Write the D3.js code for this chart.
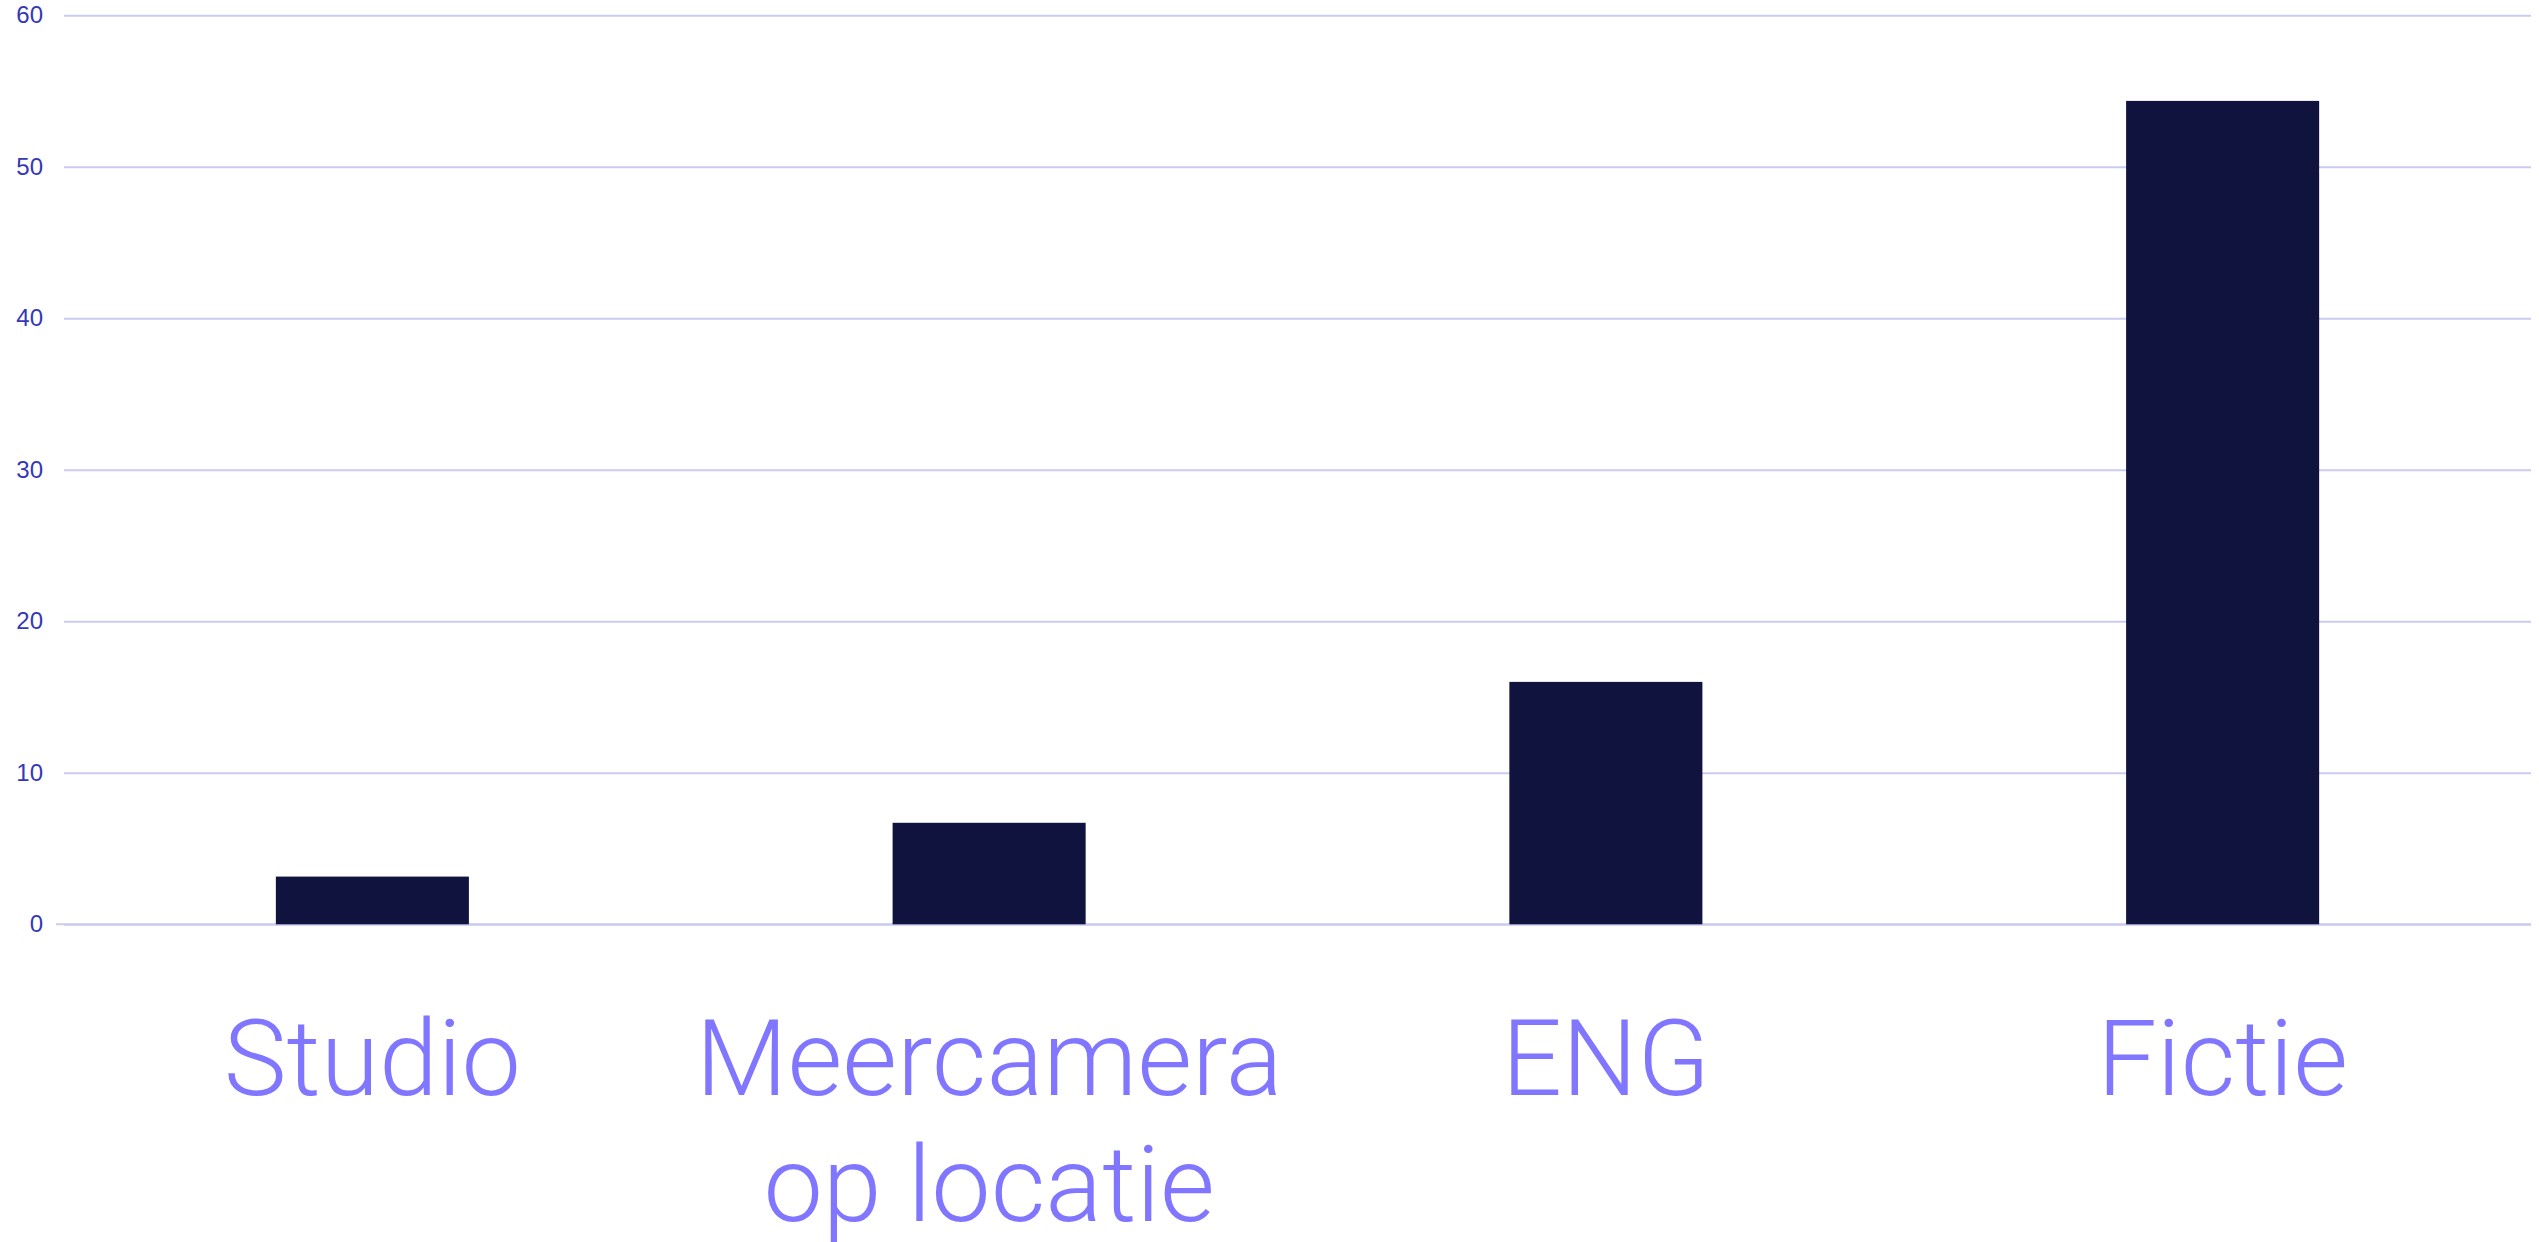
<!DOCTYPE html>
<html>
<head>
<meta charset="utf-8">
<script src="https://cdn.jsdelivr.net/npm/d3@7"></script>
<style>
  body { margin: 0; background: #fff; }
  svg { display: block; }
</style>
</head>
<body>
<div id="app"></div>
<script>
// data
const categories = ['Studio', 'Meercamera op locatie', 'ENG', 'Fictie'];
const labelLines = [['Studio'], ['Meercamera', 'op locatie'], ['ENG'], ['Fictie']];
const values = [3.15, 6.7, 16.0, 54.35];
const yTicks = [0, 10, 20, 30, 40, 50, 60];

const W = 2539, H = 1242;
const margin = { top: 15.3, left: 64, right: 8, bottom: 317.7 };

const svg = d3.select('#app').append('svg')
  .attr('width', W)
  .attr('height', H);

const x = d3.scaleBand()
  .domain(categories)
  .range([margin.left, W - margin.right])
  .paddingInner(0.687)
  .paddingOuter(0.3435);

const y = d3.scaleLinear()
  .domain([0, 60])
  .range([H - margin.bottom, margin.top]);

// gridlines
const yAxis = d3.axisLeft(y)
  .tickValues(yTicks)
  .tickSize(-(W - margin.left - margin.right))
  .tickPadding(21)
  .tickFormat(d3.format('d'));

const yg = svg.append('g')
  .attr('transform', 'translate(' + margin.left + ',0)')
  .call(yAxis);
yg.select('.domain').remove();
yg.selectAll('.tick line')
  .attr('stroke', '#cbcbf2')
  .attr('stroke-width', 2);
yg.selectAll('.tick text')
  .attr('fill', '#3538b8')
  .attr('font-family', '"Liberation Sans", Arial, sans-serif')
  .attr('font-size', 24);

// baseline runs a bit further left
svg.append('line')
  .attr('x1', margin.left - 8)
  .attr('x2', W - margin.right)
  .attr('y1', y(0))
  .attr('y2', y(0))
  .attr('stroke', '#cbcbf2')
  .attr('stroke-width', 2);

// bars
svg.append('g')
  .selectAll('rect')
  .data(values)
  .join('rect')
  .attr('x', (d, i) => x(categories[i]))
  .attr('width', x.bandwidth())
  .attr('y', d => y(d))
  .attr('height', d => y(0) - y(d))
  .attr('fill', '#11133f');

// category labels
const xAxis = d3.axisBottom(x).tickSize(0).tickFormat('');
const xg = svg.append('g')
  .attr('transform', 'translate(0,' + y(0) + ')')
  .call(xAxis);
xg.select('.domain').remove();

xg.selectAll('.tick')
  .append('text')
  .attr('text-anchor', 'middle')
  .attr('fill', '#8176ff')
  .attr('font-family', 'Roboto, "Open Sans", sans-serif')
  .attr('font-weight', 300)
  .attr('font-size', 106)
  .each(function(d, i) {
    const t = d3.select(this);
    labelLines[i].forEach((ln, j) => {
      t.append('tspan')
        .attr('x', 0)
        .attr('y', 170.7 + j * 125.6)
        .text(ln);
    });
  });
</script>
</body>
</html>
